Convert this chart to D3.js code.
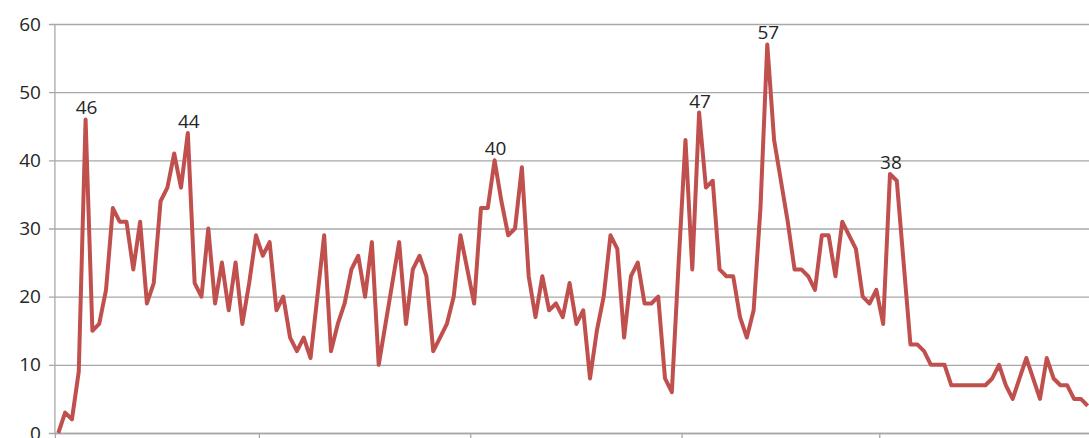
<!DOCTYPE html>
<html>
<head>
<meta charset="utf-8">
<script src="https://cdn.jsdelivr.net/npm/d3@7"></script>
<style>
  body { margin: 0; background: #fff; overflow: hidden; }
  text { font-family: "Open Sans", "Noto Sans", sans-serif; }
</style>
</head>
<body>
<script>
// daily counts, 1 Nov to 31 Mar (leap year -> 152 days)
const startDay = new Date(2011, 10, 1);
const endDay = new Date(2012, 3, 1);
const counts = [
  0, 3, 2, 9, 46, 15, 16, 21, 33, 31, 31, 24, 31, 19, 22, 34, 36, 41, 36, 44,
  22, 20, 30, 19, 25, 18, 25, 16, 22, 29, 26, 28, 18, 20, 14, 12, 14, 11, 20, 29,
  12, 16, 19, 24, 26, 20, 28, 10, 16, 22, 28, 16, 24, 26, 23, 12, 14, 16, 20, 29,
  24, 19, 33, 33, 40, 34, 29, 30, 39, 23, 17, 23, 18, 19, 17, 22, 16, 18, 8, 15,
  20, 29, 27, 14, 23, 25, 19, 19, 20, 8, 6, 25, 43, 24, 47, 36, 37, 24, 23, 23,
  17, 14, 18, 33, 57, 43, 37, 31, 24, 24, 23, 21, 29, 29, 23, 31, 29, 27, 20, 19,
  21, 16, 38, 37, 25, 13, 13, 12, 10, 10, 10, 7, 7, 7, 7, 7, 7, 8, 10, 7,
  5, 8, 11, 8, 5, 11, 8, 7, 7, 5, 5, 4
];
const labelled = [4, 19, 64, 94, 104, 122]; // peaks that carry a value label
const yTicks = [0, 10, 20, 30, 40, 50, 60];

const width = 1089, height = 438;
const plotLeft = 54.9, plotTop = 24, plotBottom = 433;
const step = 6.817;

const days = d3.timeDay.range(startDay, endDay);
const data = days.map((d, i) => ({ day: d, value: counts[i] }));

const x = d3.scaleBand()
  .domain(days)
  .range([plotLeft, plotLeft + days.length * step])
  .padding(0);
const cx = (d) => x(d) + x.bandwidth() / 2;

const y = d3.scaleLinear().domain([0, 60]).range([plotBottom, plotTop]);

const svg = d3.select("body").append("svg")
  .attr("width", width)
  .attr("height", height);

// horizontal gridlines (with small ticks left of the axis)
svg.append("g")
  .attr("transform", `translate(${plotLeft},0)`)
  .call(d3.axisLeft(y).tickValues(yTicks).tickSize(-(width - plotLeft)).tickPadding(14).tickFormat(d3.format("d")))
  .call(g => g.select(".domain").remove())
  .call(g => g.selectAll(".tick line")
    .attr("x1", -6)
    .attr("stroke", "#a8a8a8")
    .attr("stroke-width", 1.3))
  .call(g => g.selectAll(".tick text")
    .attr("fill", "#262626")
    .attr("font-size", 19));

// vertical axis line
svg.append("line")
  .attr("x1", plotLeft).attr("x2", plotLeft)
  .attr("y1", plotTop).attr("y2", plotBottom)
  .attr("stroke", "#a8a8a8")
  .attr("stroke-width", 1.3);

// month ticks on the category axis
const monthStarts = d3.timeMonth.range(d3.timeMonth.offset(startDay, 1), endDay);
svg.append("g")
  .attr("transform", `translate(0,${plotBottom})`)
  .call(d3.axisBottom(x).tickValues(monthStarts).tickSize(7).tickFormat(""))
  .call(g => g.select(".domain").attr("stroke", "#a8a8a8").attr("stroke-width", 1.3))
  .call(g => g.selectAll(".tick").attr("transform", d => `translate(${x(d)},0)`))
  .call(g => g.selectAll(".tick line").attr("stroke", "#a8a8a8").attr("stroke-width", 1.3));

const line = d3.line()
  .x(d => cx(d.day))
  .y(d => y(d.value));

svg.append("path")
  .datum(data)
  .attr("fill", "none")
  .attr("stroke", "#c0504d")
  .attr("stroke-width", 4)
  .attr("stroke-linejoin", "round")
  .attr("d", line);

svg.append("g")
  .selectAll("text")
  .data(labelled.map(i => data[i]))
  .join("text")
  .attr("x", d => cx(d.day) + 1)
  .attr("y", d => y(d.value) - 5)
  .attr("text-anchor", "middle")
  .attr("font-size", 19)
  .attr("fill", "#262626")
  .text(d => d.value);
</script>
</body>
</html>
